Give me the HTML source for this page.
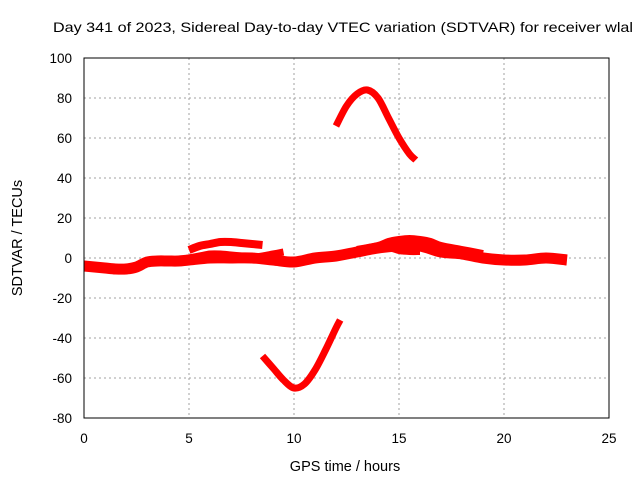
<!DOCTYPE html>
<html><head><meta charset="utf-8"><style>body{margin:0;background:#fff}svg{display:block;font-family:"Liberation Sans",sans-serif}</style></head>
<body>
<svg id="chart" width="640" height="480" viewBox="0 0 640 480" xmlns="http://www.w3.org/2000/svg">
<rect width="640" height="480" fill="#fff"/>
<g id="grid"></g>
<g id="series"></g>
<rect x="84" y="58" width="525" height="360" fill="none" stroke="#000" stroke-width="1"/>
<g id="ticks" font-size="13.5" fill="#000"></g>
<text x="53" y="32" font-size="14" textLength="580" lengthAdjust="spacingAndGlyphs">Day 341 of 2023, Sidereal Day-to-day VTEC variation (SDTVAR) for receiver wlal</text>
<text x="345" y="471" font-size="14.5" text-anchor="middle">GPS time / hours</text>
<text transform="translate(22,238) rotate(-90)" font-size="14.5" text-anchor="middle">SDTVAR / TECUs</text>
</svg>
<script>
const xTicks=[0,5,10,15,20,25];
const yTicks=[-80,-60,-40,-20,0,20,40,60,80,100];
const mainBandH=[0,0.5,1,1.5,2,2.5,3,3.5,4,4.5,5,6,7,8,9,10,11,12,13,14,15,16,17,18,19,20,21,22,23];
const mainBandV=[-4,-4.5,-5,-5.5,-5.5,-4.5,-2,-1.5,-1.5,-1.5,-1,0,0,0,-1,-2,0,1,3,5,6,6,3,2,0,-1,-1,0,-1];
const upperArcH=[5,5.5,6,6.5,7,7.5,8,8.5];
const upperArcV=[4,6,7,8,8,7.5,7,6.5];
const midBandH=[4.5,5,5.5,6,6.5,7,7.5,8,8.5,9,9.5];
const midBandV=[-1,0,1,2,2,1.5,1,0.5,1,2,3];
const lateUpperH=[13,14,14.5,15,15.5,16,16.5,17,18,19];
const lateUpperV=[4,6,8,9,9.5,9,8,6,4,2];
const lateLowerH=[13.5,14,14.5,15,15.5,16];
const lateLowerV=[5,5,5,3.5,3,3];
const peakArcH=[12,12.5,13,13.5,14,14.5,15,15.5,15.8];
const peakArcV=[66,76,82,84,80,70,60,52,49];
const troughArcH=[8.5,9,9.5,10,10.5,11,11.5,12,12.2];
const troughArcV=[-49,-55,-61,-65,-63,-56,-46,-35,-31];
const NS="http://www.w3.org/2000/svg";
const X=h=>84+h*21, Y=v=>258-v*2;
const grid=document.getElementById('grid'), ticks=document.getElementById('ticks'), ser=document.getElementById('series');
xTicks.forEach(t=>{
 if(t>0&&t<25){const l=document.createElementNS(NS,'line');
 
 
 l.setAttribute('x1',X(t));l.setAttribute('x2',X(t));l.setAttribute('y1',58);l.setAttribute('y2',418);
 l.setAttribute('stroke','#a0a0a0');l.setAttribute('stroke-dasharray','2,3');grid.appendChild(l);}
 const tx=document.createElementNS(NS,'text');
 
 
 tx.setAttribute('x',X(t));tx.setAttribute('y',443);tx.setAttribute('text-anchor','middle');tx.textContent=t;ticks.appendChild(tx);
});
yTicks.forEach(t=>{
 if(t>-80&&t<100){const l=document.createElementNS(NS,'line');
 
 
 l.setAttribute('x1',84);l.setAttribute('x2',609);l.setAttribute('y1',Y(t));l.setAttribute('y2',Y(t));
 l.setAttribute('stroke','#a0a0a0');l.setAttribute('stroke-dasharray','2,3');grid.appendChild(l);}
 const tx=document.createElementNS(NS,'text');
 
 
 tx.setAttribute('x',72);tx.setAttribute('y',Y(t)+5);tx.setAttribute('text-anchor','end');tx.textContent=t;ticks.appendChild(tx);
});
function line(hs,vs,name,w){
 const pts=hs.map((h,i)=>[X(h),Y(vs[i])]);
 let d='M'+pts[0][0]+','+pts[0][1];
 for(let i=0;i<pts.length-1;i++){
  const p0=pts[i>0?i-1:i],p1=pts[i],p2=pts[i+1],p3=pts[i+2<pts.length?i+2:i+1];
  const c1x=p1[0]+(p2[0]-p0[0])/6,c1y=p1[1]+(p2[1]-p0[1])/6;
  const c2x=p2[0]-(p3[0]-p1[0])/6,c2y=p2[1]-(p3[1]-p1[1])/6;
  d+=' C'+c1x+','+c1y+' '+c2x+','+c2y+' '+p2[0]+','+p2[1];
 }
 const p=document.createElementNS(NS,'path');
 
 
 p.setAttribute('d',d);
 p.setAttribute('fill','none');p.setAttribute('stroke','#ff0000');p.setAttribute('stroke-width',w);
 p.setAttribute('stroke-linejoin','round');ser.appendChild(p);
}
line(mainBandH,mainBandV,'main-band',11);
line(upperArcH,upperArcV,'upper-arc',8);
line(midBandH,midBandV,'mid-band',7);
line(lateUpperH,lateUpperV,'late-upper-band',8);
line(lateLowerH,lateLowerV,'late-lower-band',6);
line(peakArcH,peakArcV,'peak-arc',7);
line(troughArcH,troughArcV,'trough-arc',7);
</script>
</body></html>
